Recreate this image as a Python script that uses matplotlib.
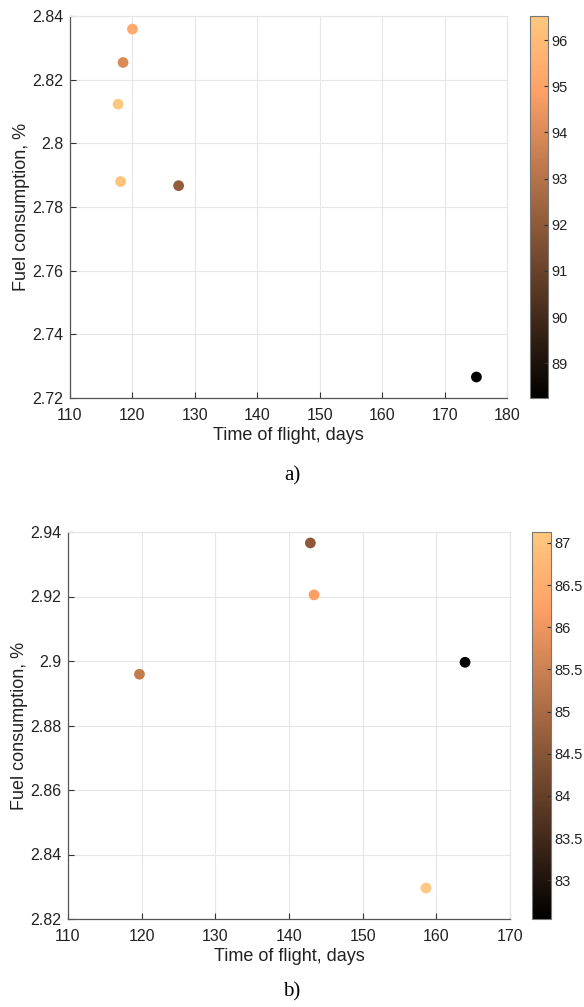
import numpy as np
import matplotlib
matplotlib.use("Agg")
import matplotlib.pyplot as plt
from matplotlib.colors import Normalize

plt.rcParams['font.family'] = ['Liberation Sans', 'DejaVu Sans']

# Panel a)
tof_a = [120.0, 118.5, 117.7, 118.1, 127.4, 175.1]
fuel_a = [2.8359, 2.8254, 2.8123, 2.7880, 2.7867, 2.7266]
val_a = [95.3, 94.0, 96.52, 96.3, 92.1, 88.25]
clim_a = (88.25, 96.52)

# Panel b)
tof_b = [119.7, 142.9, 143.4, 163.9, 158.6]
fuel_b = [2.8959, 2.9366, 2.9205, 2.8996, 2.8296]
val_b = [85.4, 84.6, 86.2, 82.54, 87.13]
clim_b = (82.54, 87.13)

fig = plt.figure(figsize=(5.84, 10.07), dpi=100)
W, H = 584, 1007


def box(x0, y0, x1, y1):
    return [x0 / W, 1 - y1 / H, (x1 - x0) / W, (y1 - y0) / H]


def panel(ax_rect, cb_rect, x, y, c, clim, xlim, ylim, yticks, cbticks, letter, letter_y):
    ax = fig.add_axes(box(*ax_rect))
    cax = fig.add_axes(box(*cb_rect))
    norm = Normalize(*clim)
    sc = ax.scatter(x, y, c=c, cmap='copper', norm=norm, s=60, zorder=3, edgecolors='none')
    ax.set_xlim(*xlim)
    ax.set_ylim(*ylim)
    ax.set_yticks(yticks)
    ax.set_yticklabels([('%g' % t) for t in yticks])
    ax.grid(True, color='#e6e6e6', lw=0.8)
    ax.set_axisbelow(True)
    for s in ['top', 'right']:
        ax.spines[s].set_color('#e6e6e6')
    for s in ['left', 'bottom']:
        ax.spines[s].set_color('#555555')
        ax.spines[s].set_linewidth(0.9)
    ax.tick_params(direction='in', length=4, labelsize=11.5, colors='#333333',
                   labelcolor='#222222', top=False, right=False)
    ax.tick_params(axis='x', pad=7)
    ax.tick_params(axis='y', pad=5)
    ax.set_xlabel('Time of flight, days', fontsize=13, color='#222222', labelpad=3)
    ax.set_ylabel('Fuel consumption, %', fontsize=13, color='#222222', labelpad=1)

    cb = fig.colorbar(sc, cax=cax, ticks=cbticks)
    cb.ax.set_yticklabels([('%g' % t) for t in cbticks])
    cb.ax.tick_params(direction='in', length=3, labelsize=10.5, colors='#333333',
                      labelcolor='#222222', pad=2.5)
    cb.outline.set_edgecolor('#777777')
    cb.outline.set_linewidth(0.8)

    fig.text(0.5, 1 - letter_y / H, letter, ha='center', va='center',
             fontsize=15, family=['Liberation Serif', 'DejaVu Serif'])


panel((70, 16, 507, 398), (530, 16, 548, 398), tof_a, fuel_a, val_a, clim_a,
      (110, 180), (2.72, 2.84), np.arange(2.72, 2.8401, 0.02),
      [89, 90, 91, 92, 93, 94, 95, 96], 'a)', 476)

panel((68, 532, 510, 919), (532, 532, 551, 919), tof_b, fuel_b, val_b, clim_b,
      (110, 170), (2.82, 2.94), np.arange(2.82, 2.9401, 0.02),
      [83, 83.5, 84, 84.5, 85, 85.5, 86, 86.5, 87], 'b)', 992)

fig.savefig('out.png', dpi=100)
